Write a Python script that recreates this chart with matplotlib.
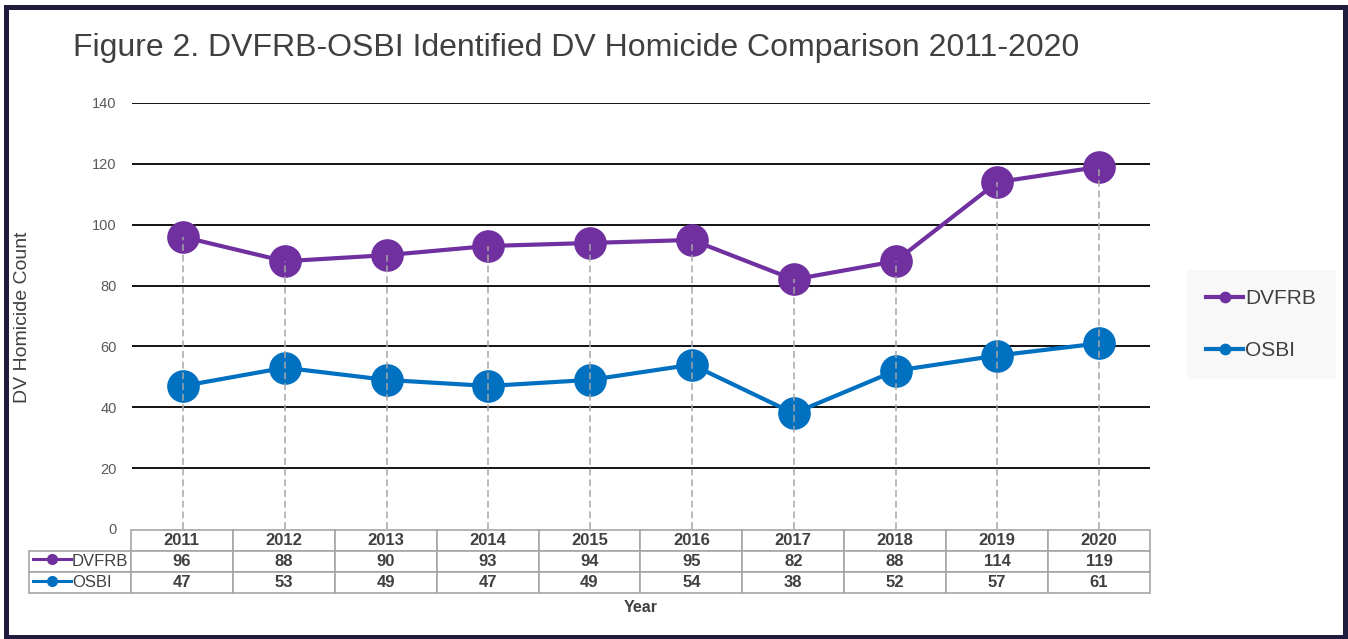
import matplotlib.pyplot as plt
from matplotlib.patches import Rectangle
import numpy as np

plt.rcParams['font.family'] = ['Liberation Sans', 'DejaVu Sans']

years = ['2011', '2012', '2013', '2014', '2015', '2016', '2017', '2018', '2019', '2020']
dvfrb = [96, 88, 90, 93, 94, 95, 82, 88, 114, 119]
osbi = [47, 53, 49, 47, 49, 54, 38, 52, 57, 61]
series_names = ['DVFRB', 'OSBI']
colors = ['#7030A0', '#0070C0']

W, H = 1348, 639
fig = plt.figure(figsize=(W / 100, H / 100), dpi=100)
ax = fig.add_axes([132 / W, 1 - 529 / H, 1018 / W, 426 / H])

x = np.arange(len(years))
# drop lines from the top series down to zero, drawn over the markers
ax.vlines(x, 0, dvfrb, colors='#a6a6a6', linestyles=(0, (4.5, 2.5)),
          linewidth=1.1, zorder=5)
for vals, name, c in zip([dvfrb, osbi], series_names, colors):
    ax.plot(x, vals, color=c, linewidth=3, marker='o', markersize=22.5,
            label=name, zorder=4)

ax.set_xlim(-0.5, len(years) - 0.5)
ax.set_ylim(0, 140)
ax.set_yticks(range(0, 141, 20))
ax.tick_params(axis='y', length=0, pad=11, labelsize=10.5, labelcolor='#595959')
ax.set_xticks([])
for s in ax.spines.values():
    s.set_visible(False)
ax.yaxis.grid(True, color='black', linewidth=1.3)
ax.get_ygridlines()[0].set_visible(False)
ax.set_axisbelow(True)

# data table under the axis (first column holds the series names)
cell_text = [[series_names[0]] + [str(v) for v in dvfrb],
             [series_names[1]] + [str(v) for v in osbi]]
tbl = ax.table(cellText=cell_text, colLabels=[''] + years, cellLoc='center',
               bbox=[-0.1012, -0.1502, 1.1012, 0.1479])
tbl.auto_set_font_size(False)
tbl.set_fontsize(12)
for (r, c), cell in tbl.get_celld().items():
    cell.set_edgecolor('#a6a6a6')
    cell.set_linewidth(1.2)
    txt = cell.get_text()
    txt.set_color('#404040')
    if r == 0 and c == 0:
        cell.visible_edges = ''
    elif c == 0:
        txt.set_horizontalalignment('left')
        cell._loc = 'left'
        cell.PAD = 0.42
    else:
        txt.set_fontweight('bold')

# legend keys inside the table row labels
for i, c in enumerate(colors):
    yy = (529 - (559 + 22 * i)) / 426
    ax.plot([-0.0973, -0.0599], [yy, yy], color=c, linewidth=2.2,
            transform=ax.transAxes, clip_on=False)
    ax.plot([-0.0786], [yy], 'o', color=c, markersize=7,
            transform=ax.transAxes, clip_on=False)

leg = ax.legend(loc='center', bbox_to_anchor=(1187 / W, 1 - 381 / H, 149 / W, 113 / H),
                bbox_transform=fig.transFigure, mode='expand', fontsize=15,
                frameon=True, fancybox=False, markerscale=0.33,
                handlelength=1.8, handletextpad=0.1, labelspacing=1.6,
                borderpad=0.9, borderaxespad=0)
leg.get_frame().set_facecolor('#f7f7f7')
leg.get_frame().set_edgecolor('none')
for t in leg.get_texts():
    t.set_color('#404040')

fig.text(73 / W, 1 - 48 / H, 'Figure 2. DVFRB-OSBI Identified DV Homicide Comparison 2011-2020',
         ha='left', va='center', fontsize=23, color='#404040')
fig.text(23 / W, 1 - 317 / H, 'DV Homicide Count', rotation=90, ha='center',
         va='center', fontsize=14, color='#404040')
fig.text(641 / W, 1 - 607 / H, 'Year', ha='center', va='center', fontsize=11.5,
         fontweight='bold', color='#404040')

fig.patches.append(Rectangle((5.5 / W, 2 / H), 1339 / W, 630.5 / H,
                             transform=fig.transFigure, fill=False,
                             edgecolor='#1f1c3d', linewidth=3.6))

fig.savefig('out.png', dpi=100)
